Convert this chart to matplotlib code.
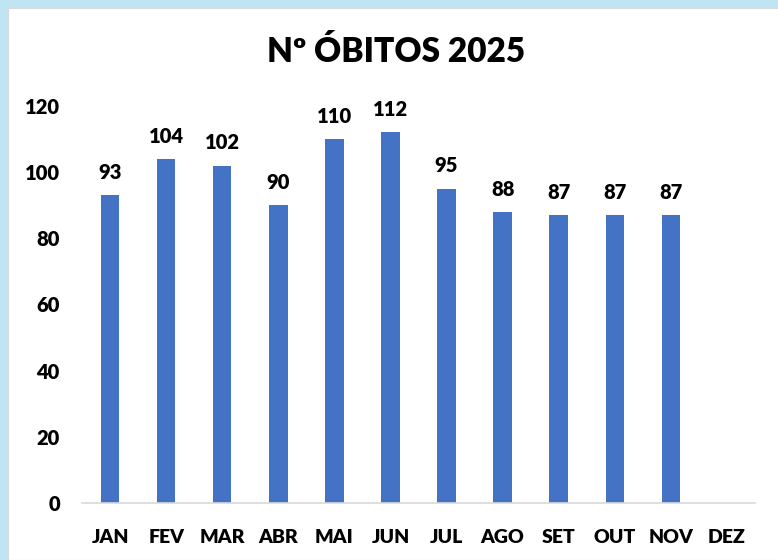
import matplotlib.pyplot as plt
from matplotlib.patches import Rectangle

meses = ['JAN', 'FEV', 'MAR', 'ABR', 'MAI', 'JUN', 'JUL', 'AGO', 'SET', 'OUT', 'NOV', 'DEZ']
obitos = [93, 104, 102, 90, 110, 112, 95, 88, 87, 87, 87, None]
yticks = [0, 20, 40, 60, 80, 100, 120]

plt.rcParams['font.family'] = ['Lato', 'DejaVu Sans']

fig = plt.figure(figsize=(7.78, 5.6), dpi=100)
fig.patch.set_facecolor('#bfe5f2')
# painel branco do grafico
fig.patches.append(Rectangle((8 / 778, 0), 1, 552 / 560, transform=fig.transFigure,
                             facecolor='white', edgecolor='#d9d9d9', lw=0.8, zorder=-5))

ax = fig.add_axes([82 / 778, 57 / 560, 673 / 778, 397 / 560])
ax.set_facecolor('none')
ax.set_zorder(2)

x = list(range(len(meses)))
vals = [v if v is not None else 0 for v in obitos]
bars = ax.bar(x, vals, width=0.33, color='#4472c4')
for xi, v in zip(x, obitos):
    if v is not None:
        ax.text(xi, v + 4, str(v), ha='center', va='bottom', fontsize=14.5, fontweight='heavy')

ax.set_xlim(-0.5, len(meses) - 0.5)
ax.set_ylim(0, 120)
ax.set_yticks(yticks)
ax.set_yticklabels([str(t) for t in yticks], fontweight='heavy', fontsize=14.5)
ax.set_xticks(x)
ax.set_xticklabels(meses, fontweight='heavy', fontsize=14)
ax.tick_params(axis='both', length=0)
ax.tick_params(axis='x', pad=19)
ax.tick_params(axis='y', pad=16)
for s in ['top', 'right', 'left']:
    ax.spines[s].set_visible(False)
ax.spines['bottom'].set_color('#d9d9d9')
ax.spines['bottom'].set_linewidth(1.2)

fig.text(396 / 778, 1 - 52 / 560, 'Nº ÓBITOS 2025', ha='center', va='center',
         fontsize=24, fontweight='heavy')

fig.savefig('out.png', dpi=100, facecolor=fig.get_facecolor())
